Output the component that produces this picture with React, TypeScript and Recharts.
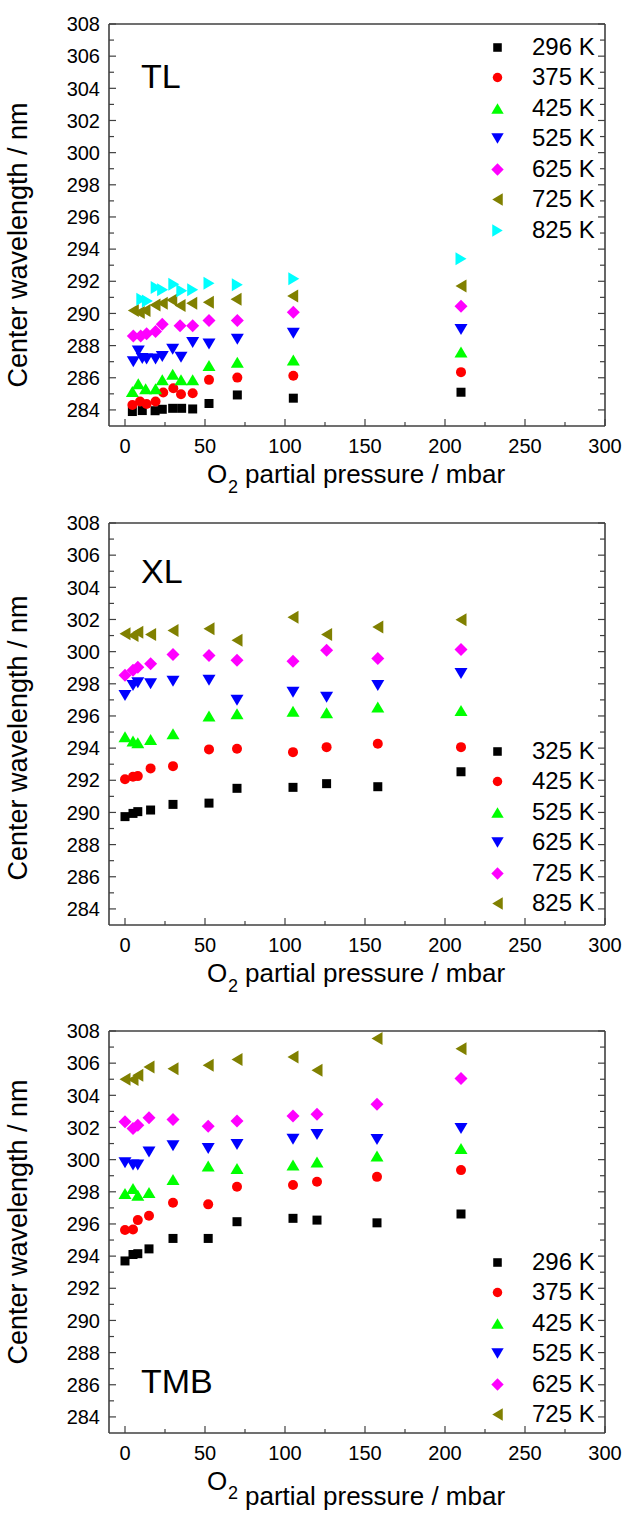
import React from 'react';
import { ScatterChart, Scatter, XAxis, YAxis, Legend, Label } from 'recharts';

type Pt = [number, number];
type Kind = 'square' | 'circle' | 'up' | 'down' | 'diamond' | 'left' | 'right';

// ---- TL: every temperature has its own pressure points [mbar, nm] ----
const tl296: Pt[] = [[4.6, 283.9], [10.8, 283.96], [18.8, 283.95], [23.3, 284.04], [29.8, 284.1], [35.4, 284.1], [42.3, 284.06], [52.5, 284.4], [70.2, 284.93], [105.2, 284.73], [210, 285.1]];
const tl375: Pt[] = [[4.6, 284.31], [9.4, 284.52], [13.5, 284.37], [19.1, 284.52], [23.9, 285.08], [30.2, 285.35], [35, 284.98], [42.3, 285.04], [52.5, 285.87], [70.2, 286.01], [105.2, 286.13], [210, 286.35]];
const tl425: Pt[] = [[4.6, 285.14], [8.3, 285.62], [12.9, 285.31], [19.1, 285.31], [23.3, 285.87], [29.8, 286.22], [35, 285.87], [42.3, 285.87], [52.5, 286.76], [70.2, 286.97], [105.2, 287.11], [210, 287.6]];
const tl525: Pt[] = [[5.2, 287.0], [8.3, 287.67], [10.8, 287.2], [13.5, 287.17], [19.1, 287.17], [23.3, 287.32], [29.8, 287.78], [35, 287.28], [42.3, 288.19], [52.5, 288.1], [70.2, 288.4], [105.2, 288.77], [210, 289.0]];
const tl625: Pt[] = [[5.2, 288.6], [9.8, 288.6], [13.5, 288.73], [19.1, 288.87], [23.3, 289.33], [34.4, 289.23], [42.3, 289.23], [52.5, 289.56], [70.2, 289.56], [105.2, 290.08], [210, 290.45]];
const tl725: Pt[] = [[5.2, 290.18], [8.9, 290.06], [12.5, 290.18], [18.75, 290.53], [23.3, 290.64], [29.2, 290.84], [34.4, 290.49], [41.7, 290.64], [52.1, 290.7], [69.4, 290.89], [104.8, 291.09], [210, 291.7]];
const tl825: Pt[] = [[10.5, 290.89], [14, 290.78], [19.5, 291.61], [23.5, 291.47], [30.5, 291.82], [35.5, 291.41], [42.3, 291.47], [52.5, 291.88], [70.2, 291.78], [105.5, 292.15], [210, 293.4]];
const tlNames = ['296 K', '375 K', '425 K', '525 K', '625 K', '725 K', '825 K'];

// ---- XL ----
const xlPressure = [0, 5, 8, 16, 30, 52.5, 70, 105, 126, 158, 210];
const xl325 = [289.74, 289.94, 290.05, 290.15, 290.5, 290.58, 291.5, 291.56, 291.79, 291.6, 292.53];
const xl425 = [292.06, 292.22, 292.26, 292.74, 292.88, 293.92, 293.96, 293.75, 294.06, 294.27, 294.06];
const xl525 = [294.71, 294.44, 294.33, 294.54, 294.89, 295.99, 296.14, 296.3, 296.2, 296.55, 296.34];
const xl625 = [297.27, 297.9, 298.06, 298.0, 298.16, 298.22, 296.98, 297.48, 297.17, 297.9, 298.64];
const xl725 = [298.53, 298.84, 299.03, 299.24, 299.82, 299.76, 299.47, 299.4, 300.09, 299.57, 300.13];
const xl825 = [301.12, 301.0, 301.2, 301.06, 301.31, 301.42, 300.71, 302.14, 301.06, 301.54, 301.99];
const xlNames = ['325 K', '425 K', '525 K', '625 K', '725 K', '825 K'];

// ---- TMB ----
const tmbPressure = [0, 5, 8, 15, 30, 52, 70, 105, 120, 157.5, 210];
const tmb296 = [293.7, 294.1, 294.15, 294.45, 295.1, 295.1, 296.14, 296.35, 296.24, 296.07, 296.62];
const tmb375 = [295.62, 295.66, 296.24, 296.51, 297.32, 297.22, 298.31, 298.42, 298.62, 298.93, 299.35];
const tmb425 = [297.9, 298.21, 297.79, 297.96, 298.77, 299.61, 299.45, 299.66, 299.86, 300.22, 300.69];
const tmb525 = [299.8, 299.66, 299.66, 300.48, 300.86, 300.7, 300.94, 301.27, 301.56, 301.25, 301.94];
const tmb625 = [302.35, 301.94, 302.14, 302.6, 302.5, 302.08, 302.41, 302.72, 302.83, 303.45, 305.04];
const tmb725 = [305.0, 304.98, 305.25, 305.76, 305.66, 305.87, 306.22, 306.39, 305.56, 307.53, 306.9];
const tmbNames = ['296 K', '375 K', '425 K', '525 K', '625 K', '725 K'];

const X_TICKS = [0, 25, 50, 75, 100, 125, 150, 175, 200, 225, 250, 275, 300];
const Y_TICKS = [284, 285, 286, 287, 288, 289, 290, 291, 292, 293, 294, 295, 296, 297, 298, 299, 300, 301, 302, 303, 304, 305, 306, 307, 308];

const KINDS: Kind[] = ['square', 'circle', 'up', 'down', 'diamond', 'left', 'right'];
const COLORS = ['#000000', '#ff0000', '#00ff00', '#0000ff', '#ff00ff', '#808000', '#00ffff'];

const FONT = '"Liberation Sans", Arial, Helvetica, sans-serif';
const AX = '#404040';
const PLOT_TOP = 24;
const PLOT_BOTTOM = 426;
const AXIS_H = 70;

const fromPts = (p: Pt[]) => p.map(([x, y]) => ({ x, y }));
const pairs = (xs: number[], ys: number[]) => xs.map((x, i) => ({ x, y: ys[i] }));

interface Series { name: string; data: { x: number; y: number }[] }

const tlSeries: Series[] = [tl296, tl375, tl425, tl525, tl625, tl725, tl825].map((d, i) => ({ name: tlNames[i], data: fromPts(d) }));
const xlSeries: Series[] = [xl325, xl425, xl525, xl625, xl725, xl825].map((d, i) => ({ name: xlNames[i], data: pairs(xlPressure, d) }));
const tmbSeries: Series[] = [tmb296, tmb375, tmb425, tmb525, tmb625, tmb725].map((d, i) => ({ name: tmbNames[i], data: pairs(tmbPressure, d) }));

function Marker({ kind, cx, cy, color, s = 1 }: { kind: Kind; cx: number; cy: number; color: string; s?: number }) {
  switch (kind) {
    case 'square': {
      const h = 4.5 * s;
      return <rect x={cx - h} y={cy - h} width={2 * h} height={2 * h} fill={color} />;
    }
    case 'circle':
      return <circle cx={cx} cy={cy} r={5 * s} fill={color} />;
    case 'up': {
      const w = 6.5 * s, h = 5.5 * s;
      return <polygon points={`${cx - w},${cy + h} ${cx + w},${cy + h} ${cx},${cy - h}`} fill={color} />;
    }
    case 'down': {
      const w = 6.5 * s, h = 5.5 * s;
      return <polygon points={`${cx - w},${cy - h} ${cx + w},${cy - h} ${cx},${cy + h}`} fill={color} />;
    }
    case 'diamond': {
      const d = 6.5 * s;
      return <polygon points={`${cx},${cy - d} ${cx + d},${cy} ${cx},${cy + d} ${cx - d},${cy}`} fill={color} />;
    }
    case 'left': {
      const w = 5.5 * s, h = 6.5 * s;
      return <polygon points={`${cx - w},${cy} ${cx + w},${cy - h} ${cx + w},${cy + h}`} fill={color} />;
    }
    default: {
      const w = 5.5 * s, h = 6.5 * s;
      return <polygon points={`${cx + w},${cy} ${cx - w},${cy - h} ${cx - w},${cy + h}`} fill={color} />;
    }
  }
}

const BottomTick = (p: any) => {
  const v = p.payload.value;
  const major = v % 50 === 0;
  return (
    <g>
      <line x1={p.x} x2={p.x} y1={p.y} y2={p.y - (major ? 7 : 4)} stroke={AX} strokeWidth={1.2} />
      {major && (
        <text x={p.x} y={p.y + 27} textAnchor="middle" fontSize={20} fontFamily={FONT} fill="#000">{v}</text>
      )}
    </g>
  );
};

const TopTick = (p: any) => {
  const major = p.payload.value % 50 === 0;
  return <line x1={p.x} x2={p.x} y1={p.y} y2={p.y + (major ? 7 : 4)} stroke={AX} strokeWidth={1.2} />;
};

const LeftTick = (p: any) => {
  const v = p.payload.value;
  const major = v % 2 === 0;
  return (
    <g>
      <line x1={p.x} x2={p.x + (major ? 7 : 5)} y1={p.y} y2={p.y} stroke={AX} strokeWidth={1.2} />
      {major && (
        <text x={p.x - 9} y={p.y} dy="0.36em" textAnchor="end" fontSize={20} fontFamily={FONT} fill="#000">{v}</text>
      )}
    </g>
  );
};

const RightTick = (p: any) => {
  const major = p.payload.value % 2 === 0;
  return <line x1={p.x} x2={p.x - (major ? 7 : 5)} y1={p.y} y2={p.y} stroke={AX} strokeWidth={1.2} />;
};

function XTitle({ split }: { split: boolean }) {
  const base = PLOT_BOTTOM + 57;
  return (
    <text fontFamily={FONT} fontSize={26} fill="#000">
      <tspan x={207} y={base}>O</tspan>
      <tspan x={228} y={base + (split ? 9 : 10)} fontSize={18}>2</tspan>
      <tspan x={245} y={split ? base + 15 : base}>partial pressure / mbar</tspan>
    </text>
  );
}

function YTitle({ cy, tag, tagY }: { cy: number; tag: string; tagY: number }) {
  return (
    <g fontFamily={FONT} fill="#000">
      <text x={27} y={cy} transform={`rotate(-90, 27, ${cy})`} textAnchor="middle" fontSize={27}>
        Center wavelength / nm
      </text>
      <text x={141} y={tagY} fontSize={34}>{tag}</text>
    </g>
  );
}

function LegendBox({ series }: { series: Series[] }) {
  return (
    <div style={{ fontFamily: FONT, fontSize: 24, color: '#000' }}>
      {series.map((s, i) => (
        <div key={s.name} style={{ display: 'flex', alignItems: 'center', height: 30.5, whiteSpace: 'nowrap' }}>
          <svg width={21} height={21} style={{ display: 'block' }}>
            <Marker kind={KINDS[i]} cx={10.5} cy={10.5} color={COLORS[i]} s={0.95} />
          </svg>
          <span style={{ marginLeft: 24, lineHeight: '30.5px' }}>{s.name}</span>
        </div>
      ))}
    </div>
  );
}

interface PanelProps {
  series: Series[];
  tag: string;
  top: number;
  height: number;
  tagY: number;
  titleY: number;
  legendY: number;
  split?: boolean;
}

function Panel({ series, tag, top, height, tagY, titleY, legendY, split = false }: PanelProps) {
  return (
    <div style={{ position: 'absolute', left: 0, top, width: 627, height }}>
      <ScatterChart
        width={627}
        height={height}
        margin={{ top: PLOT_TOP - 1, right: 21, bottom: height - PLOT_BOTTOM - AXIS_H, left: 0 }}
      >
        <XAxis
          xAxisId="b"
          type="number"
          dataKey="x"
          domain={[-10, 300]}
          allowDataOverflow
          ticks={X_TICKS}
          interval={0}
          tickSize={0}
          tickMargin={0}
          tickLine={false}
          height={AXIS_H}
          axisLine={{ stroke: AX, strokeWidth: 1.6 }}
          tick={BottomTick}
        >
          <Label content={() => <XTitle split={split} />} />
        </XAxis>
        <XAxis
          xAxisId="t"
          orientation="top"
          type="number"
          domain={[-10, 300]}
          allowDataOverflow
          ticks={X_TICKS}
          interval={0}
          tickSize={0}
          tickMargin={0}
          tickLine={false}
          height={1}
          axisLine={{ stroke: AX, strokeWidth: 1.6 }}
          tick={TopTick}
        />
        <YAxis
          yAxisId="l"
          type="number"
          dataKey="y"
          domain={[283, 308]}
          allowDataOverflow
          ticks={Y_TICKS}
          interval={0}
          tickSize={0}
          tickMargin={0}
          tickLine={false}
          width={109}
          axisLine={{ stroke: AX, strokeWidth: 1.6 }}
          tick={LeftTick}
        >
          <Label content={() => <YTitle cy={titleY} tag={tag} tagY={tagY} />} />
        </YAxis>
        <YAxis
          yAxisId="r"
          orientation="right"
          type="number"
          domain={[283, 308]}
          allowDataOverflow
          ticks={Y_TICKS}
          interval={0}
          tickSize={0}
          tickMargin={0}
          tickLine={false}
          width={1}
          axisLine={{ stroke: AX, strokeWidth: 1.6 }}
          tick={RightTick}
        />
        {series.map((s, i) => (
          <Scatter
            key={s.name}
            name={s.name}
            data={s.data}
            xAxisId="b"
            yAxisId="l"
            fill={COLORS[i]}
            isAnimationActive={false}
            shape={(p: any) => <Marker kind={KINDS[i]} cx={p.cx} cy={p.cy} color={COLORS[i]} />}
          />
        ))}
        <Legend
          layout="vertical"
          align="center"
          verticalAlign="middle"
          wrapperStyle={{ left: 487, top: legendY - 15.25, width: 130, right: 'auto', bottom: 'auto' }}
          content={() => <LegendBox series={series} />}
        />
      </ScatterChart>
    </div>
  );
}

export default function App() {
  return (
    <div style={{ position: 'absolute', left: 0, top: 0, width: 627, height: 1516, background: '#fff' }}>
      <Panel series={tlSeries} tag="TL" top={0} height={499} tagY={88} titleY={245} legendY={47} />
      <Panel series={xlSeries} tag="XL" top={499} height={508} tagY={84} titleY={239} legendY={252} />
      <Panel series={tmbSeries} tag="TMB" top={1007} height={509} tagY={386} titleY={215} legendY={255} split />
    </div>
  );
}
